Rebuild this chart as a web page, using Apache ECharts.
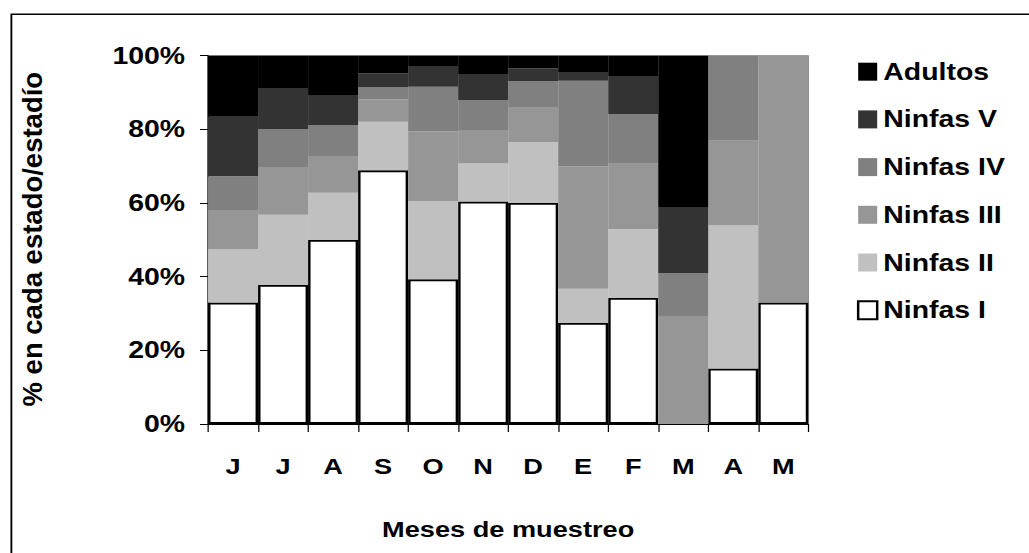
<!DOCTYPE html>
<html>
<head>
<meta charset="utf-8">
<script src="https://cdn.jsdelivr.net/npm/echarts@6/dist/echarts.min.js"></script>
<style>
html,body{margin:0;padding:0;background:#fff;overflow:hidden;}
#wrap{width:1029px;height:553px;overflow:hidden;}
#c{width:833px;height:553px;transform:scaleX(1.2353);transform-origin:0 0;}
</style>
</head>
<body>
<div id="wrap"><div id="c"></div></div>
<script>
// Data (percent in each stage, per sampling month)
const months = ['J','J','A','S','O','N','D','E','F','M','A','M'];
const yTicks = [0, 20, 40, 60, 80, 100];
const ninfasI   = [33.0, 37.8, 50.0, 68.9, 39.3, 60.4, 60.1, 27.5, 34.3, 0,    15.1, 33.0];
const ninfasII  = [14.5, 19.0, 12.8, 13.2, 21.2, 10.3, 16.5,  9.2, 18.6, 0,    38.9,  0];
const ninfasIII = [10.6, 13.0, 10.0,  6.1, 18.9,  9.1,  9.5, 33.3, 18.0, 29.3, 22.9, 67.0];
const ninfasIV  = [ 9.2, 10.3,  8.4,  3.3, 12.2,  8.2,  7.0, 23.2, 13.3, 11.7, 23.1,  0];
const ninfasV   = [16.1, 10.9,  7.9,  3.7,  5.6,  6.8,  3.5,  2.2, 10.3, 17.9,  0,    0];
const adultos   = [16.6,  9.0, 10.9,  4.8,  2.8,  5.2,  3.4,  4.6,  5.5, 41.1,  0,    0];

const seriesDefs = [
  {name:'Ninfas I',   data:ninfasI,   color:'#ffffff', border:true},
  {name:'Ninfas II',  data:ninfasII,  color:'#c0c0c0'},
  {name:'Ninfas III', data:ninfasIII, color:'#969696'},
  {name:'Ninfas IV',  data:ninfasIV,  color:'#808080'},
  {name:'Ninfas V',   data:ninfasV,   color:'#333333'},
  {name:'Adultos',    data:adultos,   color:'#000000'}
];

const SX = 1.2353;
const FONT = "'Liberation Sans', Arial, sans-serif";
const chart = echarts.init(document.getElementById('c'), null, {renderer:'svg'});

const series = seriesDefs.map(d => ({
  name: d.name,
  type: 'bar',
  stack: 'total',
  barCategoryGap: '0%',
  animation: false,
  itemStyle: d.border ? {color:d.color, borderColor:'#000', borderWidth:2} : {color:d.color, borderWidth:0},
  emphasis: {disabled:true},
  data: d.data.map(v => (d.border && v === 0) ? {value:0, itemStyle:{borderWidth:0}} : v)
}));

chart.setOption({
  backgroundColor: '#ffffff',
  animation: false,
  textStyle: {fontFamily: FONT},
  graphic: [
    {
      type:'rect', left:6.7, top:11.7, z:-1,
      shape:{width:1200, height:800},
      style:{fill:'none', stroke:'#000', lineWidth:1.5}
    },
    {
      type:'text', x:26, y:239.2, rotation:Math.PI/2, scaleY:1/SX,
      style:{text:'% en cada estado/estadío', fontFamily:FONT, fontWeight:'bold', fontSize:27.5, fill:'#000', align:'center', verticalAlign:'middle'}
    }
  ],
  grid: {left:168.4, top:55.7, width:485.9, height:368.3, show:true, borderColor:'#808080', borderWidth:1, backgroundColor:'transparent'},
  legend: {
    orient:'vertical', left:693.7, top:60.2, padding:0,
    icon:'rect', itemWidth:15.4, itemHeight:18, itemGap:24.7,
    data:['Adultos','Ninfas V','Ninfas IV','Ninfas III','Ninfas II','Ninfas I'],
    textStyle:{fontFamily:FONT, fontWeight:'bold', fontSize:23, color:'#000'},
    selectedMode:false
  },
  xAxis: {
    type:'category', data:months,
    name:'Meses de muestreo', nameLocation:'middle', nameGap:94,
    nameTextStyle:{fontFamily:FONT, fontWeight:'bold', fontSize:22, color:'#000'},
    axisLine:{lineStyle:{color:'#000', width:1}},
    axisTick:{show:true, length:8, lineStyle:{color:'#000'}},
    axisLabel:{fontFamily:FONT, fontWeight:'bold', fontSize:22, color:'#000', margin:31, lineHeight:22}
  },
  yAxis: {
    type:'value', min:yTicks[0], max:yTicks[yTicks.length-1], interval:20,
    axisLine:{show:true, lineStyle:{color:'#000', width:1}},
    axisTick:{show:true, length:6.5, lineStyle:{color:'#000'}},
    splitLine:{show:false},
    axisLabel:{fontFamily:FONT, fontWeight:'bold', fontSize:23, color:'#000', margin:18.6, formatter:'{value}%'}
  },
  series: series
});
</script>
</body>
</html>
